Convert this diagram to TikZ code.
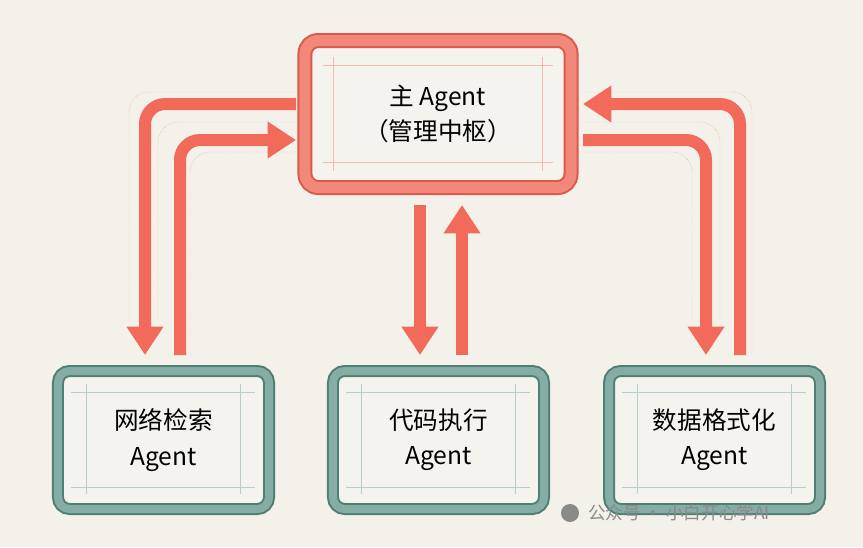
\documentclass[tikz,border=0pt]{standalone}
\usepackage{fontspec}
\setmainfont{Noto Sans CJK SC}
\usetikzlibrary{arrows.meta,positioning,calc}
\definecolor{bgcol}{HTML}{F3F1EA}
\definecolor{redline}{HTML}{D9594A}
\definecolor{redfill}{HTML}{F2887A}
\definecolor{arrowcol}{HTML}{F26A5A}
\definecolor{greenline}{HTML}{4F7F74}
\definecolor{greenfill}{HTML}{86ADA3}
\definecolor{boxfill}{HTML}{F4F3EE}
\definecolor{dotcol}{HTML}{C9A9A2}
\definecolor{markcol}{HTML}{8A8A8A}

\tikzset{
  mainbox/.style={rectangle, rounded corners=0.4cm, draw=redline, line width=0.45cm,
    fill=boxfill, minimum width=7.98cm, minimum height=4.41cm, align=center,
    font=\fontsize{21}{30}\selectfont,
    postaction={draw=redfill, line width=0.33cm},
    path picture={\draw[redfill!60, line width=0.5pt]
      ($(path picture bounding box.north west)+(0.55cm,-0.75cm)$) -- ++(6.9cm,0)
      ($(path picture bounding box.south west)+(0.55cm,0.75cm)$) -- ++(6.9cm,0)
      ($(path picture bounding box.north west)+(0.85cm,-0.5cm)$) -- ++(0,-3.4cm)
      ($(path picture bounding box.north east)+(-0.85cm,-0.5cm)$) -- ++(0,-3.4cm);}},
  subbox/.style={rectangle, rounded corners=0.35cm, draw=greenline, line width=0.36cm,
    fill=boxfill, minimum width=6.33cm, minimum height=4.14cm, align=center,
    font=\fontsize{21}{30}\selectfont,
    postaction={draw=greenfill, line width=0.24cm},
    path picture={\draw[greenfill!60, line width=0.5pt]
      ($(path picture bounding box.north west)+(0.4cm,-0.65cm)$) -- ++(5.5cm,0)
      ($(path picture bounding box.south west)+(0.4cm,0.65cm)$) -- ++(5.5cm,0)
      ($(path picture bounding box.north west)+(0.85cm,-0.4cm)$) -- ++(0,-3.3cm)
      ($(path picture bounding box.north east)+(-0.85cm,-0.4cm)$) -- ++(0,-3.3cm);}},
  flow/.style={draw=arrowcol, line width=0.36cm, rounded corners=0.6cm,
    -{Triangle[width=1.05cm,length=0.85cm]}},
  guide/.style={draw=dotcol, densely dotted, line width=0.4pt, rounded corners=0.6cm}
}

\begin{document}
\begin{tikzpicture}[x=0.03cm, y=-0.03cm]
\fill[bgcol] (0,0) rectangle (863,547);
\useasboundingbox (0,0) rectangle (863,547);

% boxes
\node[mainbox, name=main] at (438,114) {主 Agent\\（管理中枢）};
\node[subbox, name=search] at (163.5,440) {网络检索\\Agent};
\node[subbox, name=code] at (438.5,440) {代码执行\\Agent};
\node[subbox, name=format] at (714.5,440) {数据格式化\\Agent};

% arrow ends
\coordinate (mw1) at (296,104);
\coordinate (mw2) at (296,140);
\coordinate (me1) at (583,140);
\coordinate (me2) at (583,104);
\coordinate (ms1) at (420,205);
\coordinate (ms2) at (462,205);
\coordinate (sa) at (145,355);
\coordinate (sb) at (180,355);
\coordinate (ca) at (420,355);
\coordinate (cb) at (462,355);
\coordinate (fa) at (706,355);
\coordinate (fb) at (740,355);

% dotted guides
\draw[guide] (296,92) -- (129,92) -- (129,320);
\draw[guide] (296,122) -- (158,122) -- (158,320);
\draw[guide] (296,152) -- (190,152) -- (190,355);
\draw[guide] (583,152) -- (692,152) -- (692,320);
\draw[guide] (583,122) -- (720,122) -- (720,320);
\draw[guide] (583,92) -- (752,92) -- (752,355);

% arrows
\draw[flow] (mw1) -| (sa);
\draw[flow] (sb) |- (mw2);
\draw[flow] (ms1) -- (ca);
\draw[flow] (cb) -- (ms2);
\draw[flow] (me1) -| (fa);
\draw[flow] (fb) |- (me2);

% watermark
\fill[markcol, name=icon] (570,513) circle (9);
\node[text=markcol, font=\fontsize{15}{18}\selectfont, anchor=west, name=mark] at (584,513) {公众号 · 小白开心学AI};
\end{tikzpicture}
\end{document}
